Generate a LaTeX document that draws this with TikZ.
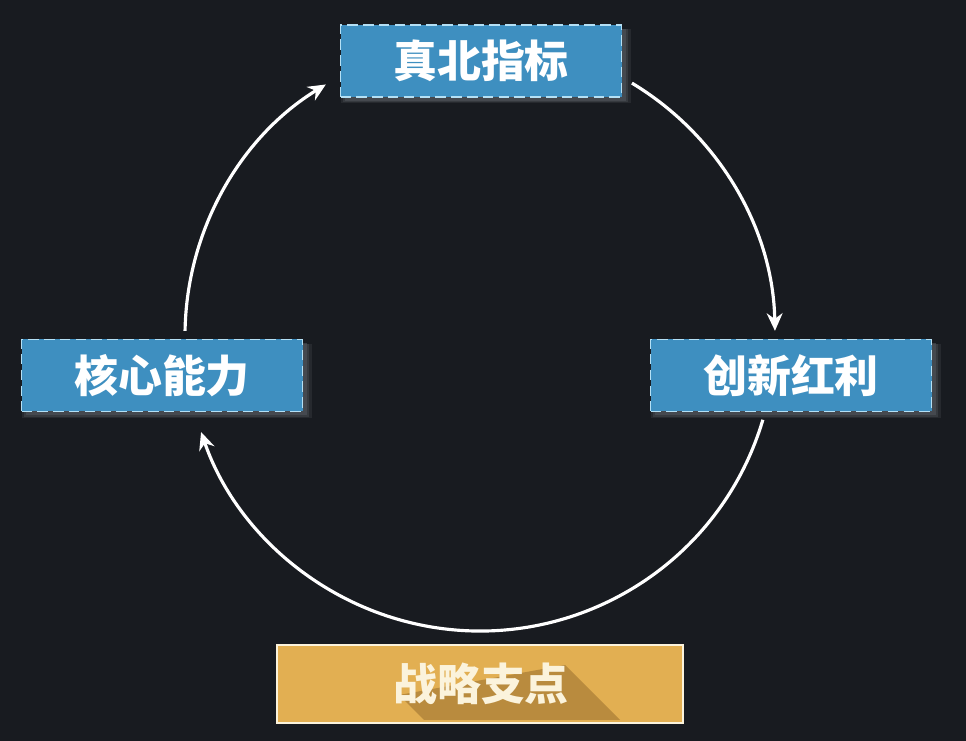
\documentclass[tikz,border=0pt]{standalone}
\usepackage{fontspec}
\newfontfamily\cjk{Noto Sans CJK SC}
\usepackage{tikz}
\usetikzlibrary{arrows.meta}
\usetikzlibrary{shadows}
\usetikzlibrary{calc}
\usepackage{xcolor}
\definecolor{mybg}{HTML}{181B20}
\definecolor{myblue}{HTML}{3E8FC0}
\definecolor{myedge}{HTML}{B4E0F5}
\definecolor{mygold}{HTML}{E2AF52}
\definecolor{mybrown}{HTML}{B98B3E}
\definecolor{mycream}{HTML}{FBF3DC}
\definecolor{myhalo}{HTML}{50545A}
\tikzset{every text node part/.style={align=center, font={\cjk\bfseries\fontsize{25}{30}\selectfont}}}
\tikzstyle{block} = [fill=myblue, draw=myedge, dashed, dash pattern=on 6pt off 3pt, line width=0.8pt, minimum width=5.62cm, minimum height=1.44cm, inner sep=0pt,
  drop shadow={shadow xshift=0.1cm, shadow yshift=-0.1cm, shadow scale=1.03, fill=myhalo, opacity=0.25},
  drop shadow={shadow xshift=0.09cm, shadow yshift=-0.09cm, shadow scale=1.015, fill=myhalo, opacity=0.4},
  drop shadow={shadow xshift=0.08cm, shadow yshift=-0.08cm, fill=myhalo, opacity=0.6}]
\tikzstyle{goldblock} = [fill=mygold, draw=mycream, line width=1pt, minimum width=8.12cm, minimum height=1.56cm, inner sep=0pt]
\tikzstyle{ln} = [draw=white, line width=1.8pt, -{Stealth[length=10pt, width=9pt]}]
\tikzstyle{lbl} = [text=white]

\begin{document}
\begin{tikzpicture}[]
  \fill[mybg] (0,0) rectangle (19.32,14.82);
  \useasboundingbox (0,0) rectangle (19.32,14.82);
  % circle of arrows
  \coordinate (ctr) at (9.6,8.1);
  \coordinate (leftup) at ([shift={(179:5.9)}]ctr);
  \coordinate (topright) at ([shift={(59:5.9)}]ctr);
  \coordinate (rightlow) at ([shift={(-16.5:5.9)}]ctr);
  \draw[ln] (leftup) arc[start angle=179, end angle=121.5, radius=5.9];
  \draw[ln] (topright) arc[start angle=59, end angle=1, radius=5.9];
  \draw[ln] (rightlow) arc[start angle=-16.5, end angle=-161, radius=5.9];
  % blue boxes
  \node[block, lbl] (truenorth) at (9.62,13.6) {真北指标};
  \node[block, lbl] (bonus) at (15.82,7.31) {创新红利};
  \node[block, lbl] (ability) at (3.24,7.31) {核心能力};
  % gold box with long shadow
  \node[goldblock] (pivot) at (9.6,1.14) {};
  \fill[mybrown] ([shift={(-1.62,-0.22)}]pivot.center) -- ([shift={(1.7,0.38)}]pivot.center)
    -- ([shift={(2.8,-0.72)}]pivot.center) -- ([shift={(-1.12,-0.72)}]pivot.center) -- cycle;
  \node[text=mycream, font={\cjk\bfseries\fontsize{21}{25}\selectfont\addfontfeature{LetterSpace=25}}] (pivot-text) at ([xshift=0.02cm]pivot) {战略支点};
\end{tikzpicture}
\end{document}
